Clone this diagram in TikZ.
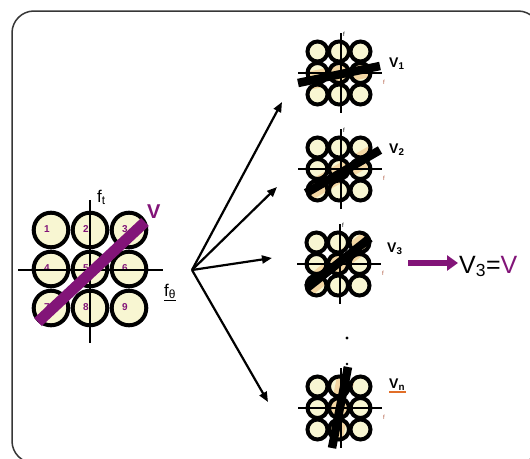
\documentclass[tikz,border=0pt]{standalone}
\usepackage{fontspec}
\setmainfont{Liberation Sans}
\usetikzlibrary{arrows.meta}
\definecolor{circfill}{RGB}{248,246,210}
\definecolor{peach}{RGB}{243,214,163}
\definecolor{vpurple}{RGB}{130,20,120}
\definecolor{framegray}{RGB}{55,55,55}
\definecolor{flab}{RGB}{175,85,60}
\definecolor{uline}{RGB}{225,110,40}
\tikzset{
  bigcirc/.style={line width=4pt, fill=circfill},
  axisline/.style={line width=2pt},
  fanarrow/.style={line width=2.2pt, -{Triangle[length=10pt,width=8pt]}},
  numlab/.style={inner sep=0pt, text=vpurple, font=\fontsize{10}{10}\selectfont\bfseries},
  tinyf/.style={inner sep=0pt, font=\fontsize{6}{6}\selectfont},
  vlab/.style={inner sep=0pt, anchor=base west, font=\fontsize{14}{14}\selectfont\bfseries},
  flabel/.style={inner sep=0pt, anchor=base west, font=\fontsize{17}{17}\selectfont},
}
\newcommand{\sgrid}[7]{%
\begin{scope}[shift={(#1,#2)}]
 \foreach \i in {-21.5,0,21.5}{\foreach \j in {-21.5,0,21.5}{\fill[circfill] (\i,\j) circle (10pt);}}
 \begin{scope}
  \clip (-21.5,-21.5) circle (10pt) (0,-21.5) circle (10pt) (21.5,-21.5) circle (10pt)
        (-21.5,0) circle (10pt) (0,0) circle (10pt) (21.5,0) circle (10pt)
        (-21.5,21.5) circle (10pt) (0,21.5) circle (10pt) (21.5,21.5) circle (10pt);
  \draw[peach, line width=18pt] (#3,#4) -- (#5,#6);
 \end{scope}
 \foreach \i in {-21.5,0,21.5}{\foreach \j in {-21.5,0,21.5}{\draw[line width=4pt] (\i,\j) circle (10pt);}}
 \draw[line width=1.8pt] (2,-40) -- (2,40);
 \draw[line width=1.8pt] (-41,0) -- (43,0);
 \node[tinyf] (#7t) at (5,-39) {f};
 \node[tinyf, text=flab] (#7r) at (45,9) {f};
 \draw[line width=8.5pt] (#3,#4) -- (#5,#6);
\end{scope}}
\begin{document}
\begin{tikzpicture}[x=1pt,y=-1pt]
\useasboundingbox (0,0) rectangle (530,458);
\clip (0,0) rectangle (530,458);
\fill[white] (0,0) rectangle (530,458);
\draw[framegray, line width=1.5pt, rounded corners=22pt] (12,11) rectangle (540,463);

% main grid
\foreach \x in {51,90,129}{\foreach \y in {230,269,308}{\draw[bigcirc] (\x,\y) circle (17.3pt);}}
\foreach \n/\x/\y in {1/51/230, 2/90/230, 3/129/230, 4/51/269, 5/90/269, 6/129/269, 7/51/308, 8/90/308, 9/129/308}
  \node[numlab] (n\n) at (\x-4,\y-1) {\n};
\draw[axisline] (90,200) -- (90,343);
\draw[axisline] (18,270) -- (163,270);
\draw[vpurple, line width=11pt] (38,322) -- (145,222);
\node[flabel] (ft) at (97,202) {f\textsubscript{t}};
\node[flabel] (fth) at (164,296) {\underline{f\textsubscript{θ}}};
\node[inner sep=0pt, anchor=base west, text=vpurple, font=\fontsize{20}{20}\selectfont\bfseries] (Vmain) at (147,218) {V};

% fan of arrows
\coordinate (o) at (192,270);
\coordinate (t1) at (282,102);
\coordinate (t2) at (277,187);
\coordinate (t3) at (272,258);
\coordinate (t4) at (268,402);
\foreach \t in {t1,t2,t3,t4} \draw[fanarrow] (o) -- (\t);

% small grids
\sgrid{339}{73}{-41}{10}{41}{-7}{ga}
\sgrid{339}{169}{-33}{24}{41}{-19}{gb}
\sgrid{338}{264}{-31}{24}{32}{-26}{gc}
\sgrid{339}{408}{-7}{40}{9}{-41}{gd}

\node[vlab] (v1) at (389,67) {V\textsubscript{1}};
\node[vlab] (v2) at (389,153) {V\textsubscript{2}};
\node[vlab] (v3) at (387,252) {V\textsubscript{3}};
\node[vlab] (vn) at (389,388) {V\textsubscript{n}};
\draw[uline, line width=1.2pt] (389,392) -- (406,392);

% dots
\fill (347,338) circle (1.6pt);
\fill (347,364) circle (1.3pt);

% result arrow
\coordinate (ra) at (408,263);
\coordinate (rb) at (458,263);
\draw[vpurple, line width=6pt, -{Triangle[length=11pt,width=15pt]}] (ra) -- (rb);
\node[inner sep=0pt, anchor=base west, font=\fontsize{25}{25}\selectfont] (eq) at (459,273) {V\textsubscript{3}=\textcolor{vpurple}{V}};
\end{tikzpicture}
\end{document}
